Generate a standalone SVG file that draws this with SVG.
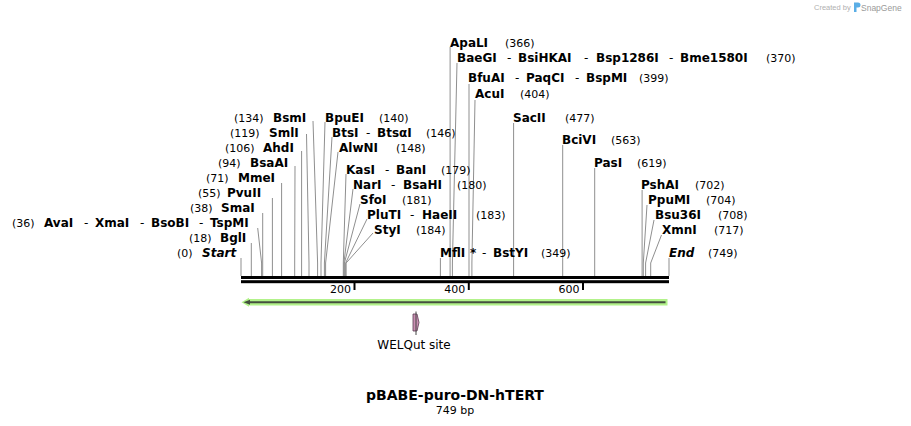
<svg xmlns="http://www.w3.org/2000/svg" width="911" height="426" viewBox="0 0 911 426">
<style>
.n{font-family:"DejaVu Sans",Verdana,sans-serif;font-weight:bold;font-size:12px;fill:#000}
.i{font-family:"DejaVu Sans",Verdana,sans-serif;font-weight:bold;font-style:italic;font-size:12px;fill:#000}
.p{font-family:"DejaVu Sans",Verdana,sans-serif;font-size:11px;fill:#000}
.d{font-family:"DejaVu Sans",Verdana,sans-serif;font-size:12px;fill:#000}
.cl{stroke:#8f8f8f;stroke-width:1;fill:none}
.tk{stroke:#000;stroke-width:2}
</style>
<rect width="911" height="426" fill="#fff"/>
<g id="credit">
<text x="814" y="10" font-family="Liberation Sans,Arial,sans-serif" font-size="7.5" fill="#b0b0b0">Created by</text>
<path d="M854,2.5 h4 a2.5,2.5 0 0 1 0,5 h-1.5 v4.5 h-2.5 z" fill="#5aaee6"/>
<text x="861" y="10.5" font-family="Liberation Sans,Arial,sans-serif" font-size="8.5" fill="#9a9a9a">SnapGene</text>
</g>
<g id="connectors">
<path class="cl" d="M241,258V276"/>
<path class="cl" d="M251.3,243V276"/>
<path class="cl" d="M257.7,228L261.6,263V276"/>
<path class="cl" d="M262.7,213V276"/>
<path class="cl" d="M272.4,198V276"/>
<path class="cl" d="M281.6,183V276"/>
<path class="cl" d="M295,166L294.7,263V276"/>
<path class="cl" d="M301.6,151V276"/>
<path class="cl" d="M306.5,134L309,263V276"/>
<path class="cl" d="M313,121L317.6,263V276"/>
<path class="cl" d="M325,122L321,263V276"/>
<path class="cl" d="M332,137L324.4,263V276"/>
<path class="cl" d="M338,152L325.6,263V276"/>
<path class="cl" d="M346,174L343.3,263V276"/>
<path class="cl" d="M353,189L343.9,263V276"/>
<path class="cl" d="M360,204L344.4,263V276"/>
<path class="cl" d="M367,219L345.6,263V276"/>
<path class="cl" d="M373,233L346.1,263V276"/>
<path class="cl" d="M440.4,258V276"/>
<path class="cl" d="M450.1,47V276"/>
<path class="cl" d="M457,63L452.4,263V276"/>
<path class="cl" d="M469,84V276"/>
<path class="cl" d="M475,100L471.9,263V276"/>
<path class="cl" d="M513.6,123V276"/>
<path class="cl" d="M562.7,145V276"/>
<path class="cl" d="M594.7,168V276"/>
<path class="cl" d="M642.1,190V276"/>
<path class="cl" d="M647,205L643.3,263V276"/>
<path class="cl" d="M654,220L645.6,263V276"/>
<path class="cl" d="M661.5,235L650.7,263V276"/>
<path class="cl" d="M669,258V276"/>
</g>
<g id="backbone">
<rect x="241" y="276" width="428" height="3" fill="#000"/>
<rect x="241" y="280.2" width="428" height="3" fill="#000"/>
<line class="tk" x1="354.5" y1="283" x2="354.5" y2="290"/>
<line class="tk" x1="468.8" y1="283" x2="468.8" y2="290"/>
<line class="tk" x1="583" y1="283" x2="583" y2="290"/>
<text class="p" x="351" y="293" text-anchor="end">200</text>
<text class="p" x="465.3" y="293" text-anchor="end">400</text>
<text class="p" x="579.5" y="293" text-anchor="end">600</text>
</g>
<g id="feature-main">
<path d="M241.5,302.3L249,297.8V299H667.5V305.6H249V306.8Z" fill="#b2f28a"/>
<path d="M248,302.3H665.5" stroke="#44503f" stroke-width="2"/>
<path d="M243.5,302.3L250,299.8V304.8Z" fill="#44503f"/>
</g>
<g id="welqut">
<path d="M413,314H417L419,322.5L417,331H413Z" fill="#c98fb2" stroke="#5a3a50" stroke-width="0.8"/>
<line x1="416" y1="311.5" x2="416" y2="335" stroke="#444" stroke-width="1"/>
<text x="414" y="348.5" text-anchor="middle" font-family="DejaVu Sans,Verdana,sans-serif" font-size="12" fill="#000">WELQut site</text>
</g>
<g id="title">
<text x="455" y="399.5" text-anchor="middle" font-family="DejaVu Sans,Verdana,sans-serif" font-weight="bold" font-size="14" fill="#000">pBABE-puro-DN-hTERT</text>
<text x="455" y="414" text-anchor="middle" font-family="DejaVu Sans,Verdana,sans-serif" font-size="11" fill="#000">749 bp</text>
</g>
<g id="ApaLI"><text class="n" x="450" y="46.5">ApaLI</text><text class="p" x="505" y="46.5">(366)</text></g>
<g id="BaeGI"><text class="n" x="457" y="61.5">BaeGI</text><text class="d" x="507" y="61.5">-</text><text class="n" x="518" y="61.5">BsiHKAI</text><text class="d" x="584" y="61.5">-</text><text class="n" x="596" y="61.5">Bsp1286I</text><text class="d" x="669" y="61.5">-</text><text class="n" x="680" y="61.5">Bme1580I</text><text class="p" x="766" y="61.5">(370)</text></g>
<g id="BfuAI"><text class="n" x="468" y="82">BfuAI</text><text class="d" x="515" y="82">-</text><text class="n" x="526" y="82">PaqCI</text><text class="d" x="575" y="82">-</text><text class="n" x="586" y="82">BspMI</text><text class="p" x="639" y="82">(399)</text></g>
<g id="AcuI"><text class="n" x="475" y="98">AcuI</text><text class="p" x="520" y="98">(404)</text></g>
<g id="BsmI"><text class="p" x="234" y="121.5">(134)</text><text class="n" x="273" y="121.5">BsmI</text></g>
<g id="BpuEI"><text class="n" x="325" y="121.5">BpuEI</text><text class="p" x="379" y="121.5">(140)</text></g>
<g id="SacII"><text class="n" x="513" y="121.5">SacII</text><text class="p" x="565" y="121.5">(477)</text></g>
<g id="SmlI"><text class="p" x="230" y="136.5">(119)</text><text class="n" x="269" y="136.5">SmlI</text></g>
<g id="BtsI"><text class="n" x="332" y="136.5">BtsI</text><text class="d" x="366" y="136.5">-</text><text class="n" x="377" y="136.5">BtsαI</text><text class="p" x="426" y="136.5">(146)</text></g>
<g id="BciVI"><text class="n" x="562" y="144">BciVI</text><text class="p" x="611" y="144">(563)</text></g>
<g id="AhdI"><text class="p" x="225" y="151.5">(106)</text><text class="n" x="263" y="151.5">AhdI</text></g>
<g id="AlwNI"><text class="n" x="339" y="151.5">AlwNI</text><text class="p" x="396" y="151.5">(148)</text></g>
<g id="BsaAI"><text class="p" x="218" y="166.5">(94)</text><text class="n" x="250" y="166.5">BsaAI</text></g>
<g id="PasI"><text class="n" x="594" y="166.5">PasI</text><text class="p" x="637" y="166.5">(619)</text></g>
<g id="KasI"><text class="n" x="346" y="173.5">KasI</text><text class="d" x="385" y="173.5">-</text><text class="n" x="396" y="173.5">BanI</text><text class="p" x="441" y="173.5">(179)</text></g>
<g id="MmeI"><text class="p" x="206" y="181.5">(71)</text><text class="n" x="238" y="181.5">MmeI</text></g>
<g id="NarI"><text class="n" x="353" y="188.5">NarI</text><text class="d" x="391" y="188.5">-</text><text class="n" x="403" y="188.5">BsaHI</text><text class="p" x="457" y="188.5">(180)</text></g>
<g id="PshAI"><text class="n" x="641" y="188.5">PshAI</text><text class="p" x="695" y="188.5">(702)</text></g>
<g id="PvuII"><text class="p" x="198" y="196.5">(55)</text><text class="n" x="227" y="196.5">PvuII</text></g>
<g id="SfoI"><text class="n" x="360" y="203.5">SfoI</text><text class="p" x="402" y="203.5">(181)</text></g>
<g id="PpuMI"><text class="n" x="648" y="203.5">PpuMI</text><text class="p" x="706" y="203.5">(704)</text></g>
<g id="SmaI"><text class="p" x="190" y="211.5">(38)</text><text class="n" x="221" y="211.5">SmaI</text></g>
<g id="PluTI"><text class="n" x="367" y="218.5">PluTI</text><text class="d" x="410" y="218.5">-</text><text class="n" x="422" y="218.5">HaeII</text><text class="p" x="476" y="218.5">(183)</text></g>
<g id="Bsu36I"><text class="n" x="655" y="218.5">Bsu36I</text><text class="p" x="718" y="218.5">(708)</text></g>
<g id="AvaI"><text class="p" x="12" y="226.5">(36)</text><text class="n" x="44" y="226.5">AvaI</text><text class="d" x="84" y="226.5">-</text><text class="n" x="95" y="226.5">XmaI</text><text class="d" x="140" y="226.5">-</text><text class="n" x="151" y="226.5">BsoBI</text><text class="d" x="199" y="226.5">-</text><text class="n" x="210" y="226.5">TspMI</text></g>
<g id="StyI"><text class="n" x="374" y="233.5">StyI</text><text class="p" x="416" y="233.5">(184)</text></g>
<g id="XmnI"><text class="n" x="662" y="233.5">XmnI</text><text class="p" x="714" y="233.5">(717)</text></g>
<g id="BglI"><text class="p" x="189" y="241.5">(18)</text><text class="n" x="220" y="241.5">BglI</text></g>
<g id="Start"><text class="p" x="177" y="256.5">(0)</text><text class="i" x="202" y="256.5">Start</text></g>
<g id="MflI"><text class="n" x="440" y="256.5">MflI</text><text class="n" x="470" y="256.5">*</text><text class="d" x="482" y="256.5">-</text><text class="n" x="493" y="256.5">BstYI</text><text class="p" x="541" y="256.5">(349)</text></g>
<g id="End"><text class="i" x="669" y="256.5">End</text><text class="p" x="708" y="256.5">(749)</text></g>
</svg>
